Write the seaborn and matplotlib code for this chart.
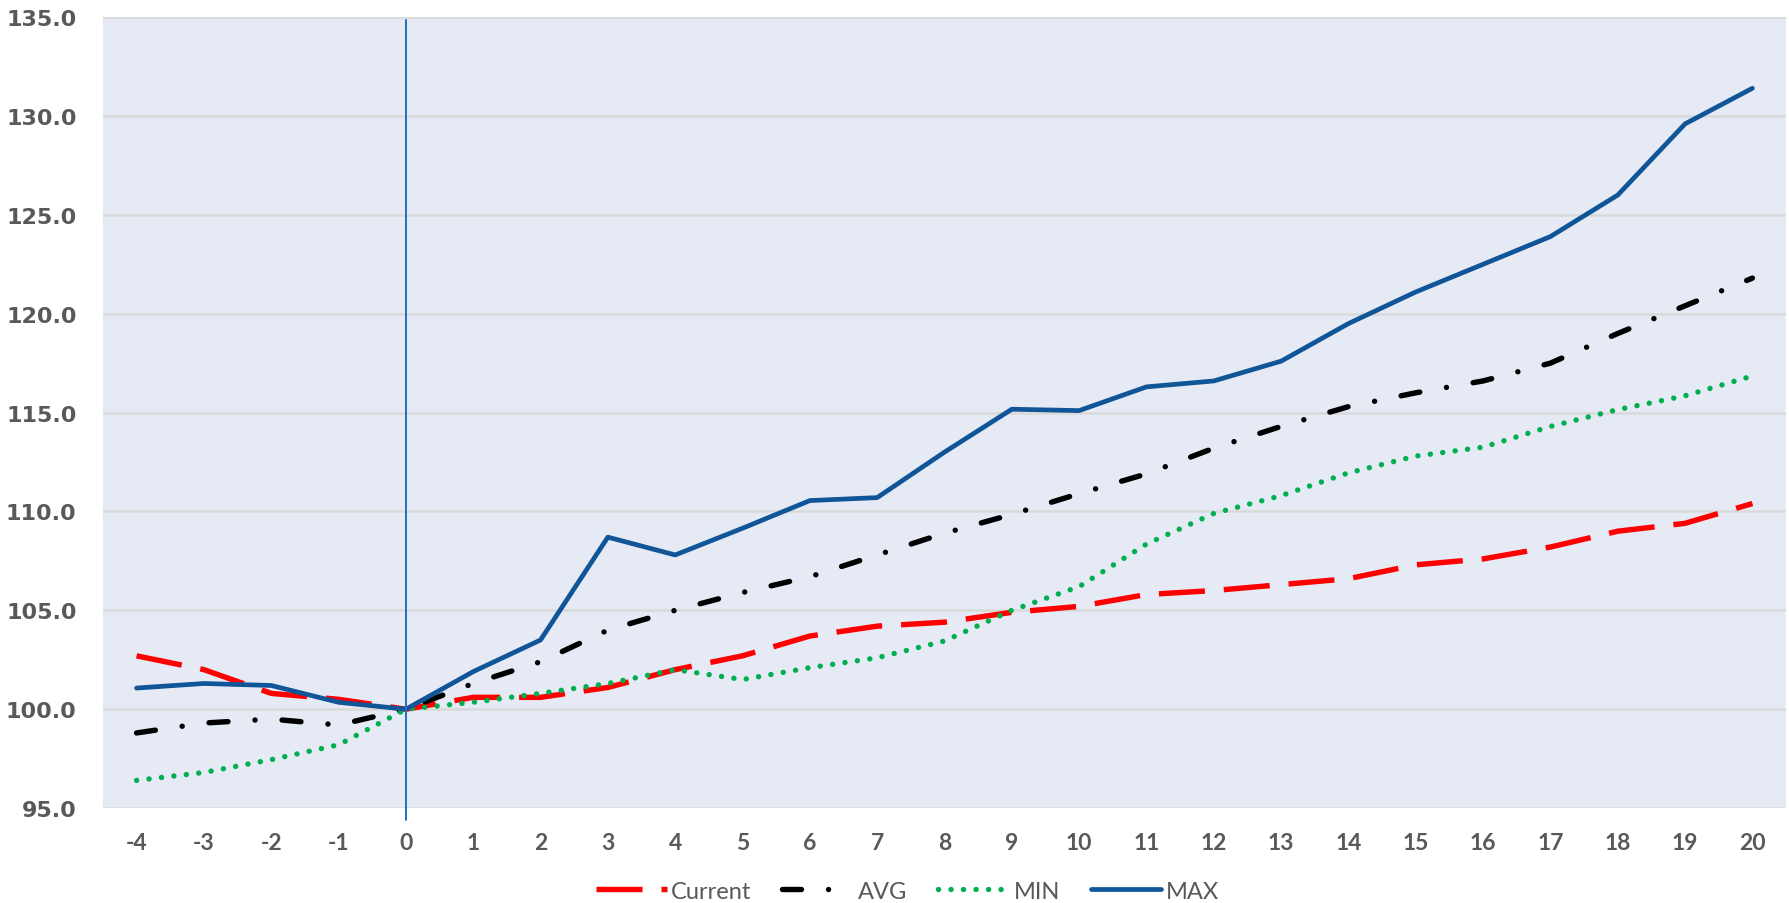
import numpy as np
import pandas as pd
import matplotlib
matplotlib.use("Agg")
import matplotlib.pyplot as plt
import seaborn as sns

periods = list(range(-4, 21))

current = [102.7, 102.0, 100.8, 100.5, 100.0, 100.6, 100.6, 101.1, 102.0, 102.7,
           103.7, 104.2, 104.4, 104.9, 105.2, 105.8, 106.0, 106.3, 106.6, 107.3,
           107.6, 108.2, 109.0, 109.4, 110.4]
avg = [98.8, 99.3, 99.5, 99.2, 100.0, 101.3, 102.4, 104.0, 105.0, 105.9,
       106.7, 107.8, 108.9, 109.85, 110.9, 111.9, 113.2, 114.3, 115.3, 116.0,
       116.6, 117.5, 119.0, 120.4, 121.8]
mins = [96.4, 96.8, 97.45, 98.2, 100.0, 100.35, 100.8, 101.3, 102.0, 101.5,
        102.1, 102.6, 103.45, 105.0, 106.2, 108.35, 109.9, 110.8, 111.95, 112.8,
        113.25, 114.3, 115.15, 115.85, 116.85]
maxs = [101.07, 101.3, 101.2, 100.35, 100.0, 101.9, 103.5, 108.7, 107.8, 109.15,
        110.55, 110.7, 113.0, 115.17, 115.1, 116.3, 116.6, 117.6, 119.5, 121.1,
        122.5, 123.9, 126.0, 129.6, 131.4]

y_ticks = [95, 100, 105, 110, 115, 120, 125, 130, 135]

sns.set_theme(style="white")
plt.rcParams['font.family'] = ['Lato', 'DejaVu Sans']

fig = plt.figure(figsize=(17.9, 9.04), dpi=100)
ax = fig.add_axes([0.0575, 0.105, 0.9403, 0.875])
ax.set_facecolor("#E6EAF5")

df = pd.DataFrame({"period": periods, "Current": current, "AVG": avg,
                   "MIN": mins, "MAX": maxs})

lw = 3.9
sns.lineplot(data=df, x="period", y="Current", ax=ax, color="#FF0000", lw=lw,
             linestyle=(0, (8.5, 3.5)), label="Current", zorder=3)
sns.lineplot(data=df, x="period", y="AVG", ax=ax, color="#000000", lw=lw,
             linestyle=(0, (3.5, 5.0, 0.01, 5.0)), dash_capstyle="round",
             label="AVG", zorder=3)
sns.lineplot(data=df, x="period", y="MIN", ax=ax, color="#00B050", lw=lw,
             linestyle=(0, (0.01, 2.3)), dash_capstyle="round",
             label="MIN", zorder=3)
sns.lineplot(data=df, x="period", y="MAX", ax=ax, color="#0F5597", lw=3.4,
             solid_capstyle="round", label="MAX", zorder=4)

ax.axvline(0, ymin=-0.015, ymax=0.996, color="#1F6FC4", lw=1.4, clip_on=False, zorder=5)

ax.set_xlim(-4.5, 20.5)
ax.set_ylim(95, 135)
ax.set_xticks(periods)
ax.set_xticklabels([str(p) for p in periods])
ax.set_yticks(y_ticks)
ax.set_yticklabels([f"{v:.1f}" for v in y_ticks])
ax.yaxis.grid(True, color="#D9D9D9", lw=1.8)
ax.xaxis.grid(False)
ax.set_axisbelow(True)
for s in ax.spines.values():
    s.set_visible(False)
ax.set_xlabel("")
ax.set_ylabel("")

ax.tick_params(axis="x", length=0, pad=17, labelsize=16.5, labelcolor="#595959")
ax.tick_params(axis="y", length=0, pad=19, labelsize=16, labelcolor="#595959")
for t in ax.get_xticklabels():
    t.set_fontweight("bold")
for t in ax.get_yticklabels():
    t.set_fontfamily("DejaVu Sans")
    t.set_fontweight("bold")

handles, labels = ax.get_legend_handles_labels()
ax.get_legend().remove()
leg = fig.legend(handles, labels, loc="center", bbox_to_anchor=(0.507, 0.013),
                 ncol=4, frameon=False, fontsize=17, handlelength=3.0,
                 handletextpad=0.2, columnspacing=1.3, borderpad=0)
for t in leg.get_texts():
    t.set_color("#595959")

fig.savefig("out.png", dpi=100)
